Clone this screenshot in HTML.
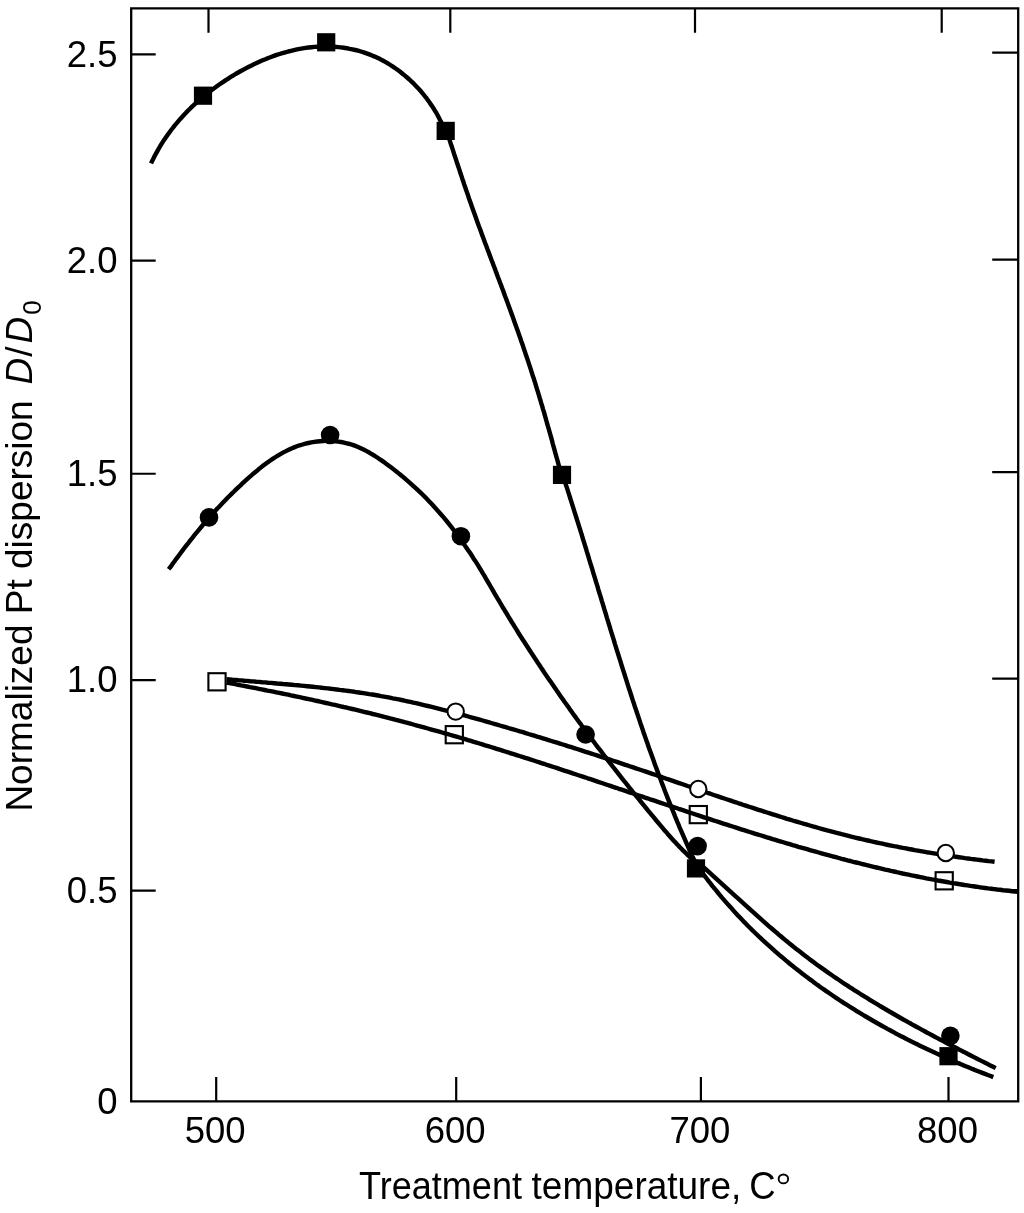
<!DOCTYPE html>
<html><head><meta charset="utf-8"><style>
html,body{margin:0;padding:0;background:#fff;}
svg{display:block;will-change:transform;}
text{font-family:"Liberation Sans",sans-serif;font-size:36.5px;fill:#000;}
</style></head><body>
<svg width="1024" height="1213" viewBox="0 0 1024 1213">
<path d="M131.2 8.3H1018.2V1101.4H131.2Z" fill="none" stroke="#000" stroke-width="2.3"/>
<path d="M131.2 54.4H155.7 M131.2 260.7H155.7 M131.2 473.75H155.7 M131.2 680.2H155.7 M131.2 890.7H155.7 M1018.2 52.6H992.2 M1018.2 259.6H992.2 M1018.2 472.2H992.2 M1018.2 678.6H992.2 M1018.2 890.0H992.2 M216.2 1101.4V1076.9 M456.2 1101.4V1076.9 M700.9 1101.4V1076.9 M948.5 1101.4V1076.9 M208.5 8.3V32.8 M450.3 8.3V32.8 M695 8.3V32.8 M941.7 8.3V32.8" stroke="#000" stroke-width="2.2" fill="none"/>
<path d="M151.0 163.4 L152.3 160.7 L153.7 158.0 L155.0 155.3 L156.5 152.7 L157.9 150.1 L159.4 147.5 L160.9 144.9 L162.5 142.4 L164.1 139.9 L165.8 137.5 L167.5 135.1 L169.2 132.7 L171.0 130.3 L172.8 128.0 L174.6 125.6 L176.5 123.4 L178.4 121.1 L180.3 118.9 L182.3 116.7 L184.3 114.5 L186.3 112.4 L188.4 110.3 L190.5 108.2 L192.6 106.2 L194.8 104.2 L197.0 102.2 L199.2 100.2 L201.4 98.3 L203.7 96.4 L206.0 94.5 L208.3 92.6 L210.7 90.8 L213.1 89.0 L215.5 87.2 L217.9 85.5 L220.4 83.8 L222.9 82.1 L225.4 80.4 L227.9 78.8 L230.4 77.2 L233.0 75.6 L235.6 74.0 L238.2 72.5 L240.9 71.0 L243.5 69.6 L246.2 68.1 L248.9 66.7 L251.6 65.4 L254.3 64.1 L257.1 62.8 L259.9 61.5 L262.6 60.3 L265.4 59.2 L268.2 58.0 L271.0 57.0 L273.9 55.9 L276.7 54.9 L279.6 54.0 L282.4 53.1 L285.3 52.3 L288.2 51.5 L291.1 50.8 L294.0 50.1 L296.9 49.4 L299.8 48.9 L302.7 48.4 L305.7 47.9 L308.6 47.5 L311.5 47.2 L314.5 46.9 L317.4 46.7 L320.3 46.6 L323.3 46.5 L326.2 46.5 L329.2 46.5 L332.1 46.6 L335.0 46.8 L338.0 47.1 L340.9 47.4 L343.8 47.8 L346.7 48.2 L349.6 48.8 L352.4 49.3 L355.3 50.0 L358.1 50.7 L360.9 51.5 L363.7 52.4 L366.5 53.4 L369.3 54.4 L372.0 55.5 L374.7 56.6 L377.4 57.8 L380.1 59.1 L382.7 60.5 L385.3 61.9 L387.8 63.4 L390.4 65.0 L392.9 66.6 L395.3 68.3 L397.8 70.0 L400.2 71.8 L402.5 73.7 L404.9 75.6 L407.1 77.5 L409.4 79.5 L411.6 81.6 L413.8 83.7 L415.9 85.9 L417.9 88.1 L420.0 90.3 L422.0 92.6 L423.9 95.0 L425.8 97.3 L427.6 99.8 L429.4 102.2 L431.1 104.7 L432.8 107.2 L434.4 109.8 L436.0 112.4 L437.5 115.0 L438.9 117.7 L440.3 120.4 L441.7 123.1 L443.0 125.9 L444.2 128.6 L445.3 131.4 L447.4 133.4 L448.3 136.3 L449.3 139.1 L450.2 141.9 L451.1 144.8 L452.1 147.6 L453.0 150.4 L453.9 153.3 L454.8 156.1 L455.8 158.9 L456.7 161.8 L457.6 164.6 L458.6 167.4 L459.5 170.2 L460.4 173.1 L461.4 175.9 L462.3 178.7 L463.3 181.5 L464.2 184.4 L465.2 187.2 L466.1 190.0 L467.1 192.8 L468.1 195.6 L469.0 198.5 L470.0 201.3 L471.0 204.1 L472.0 206.9 L473.0 209.7 L474.0 212.5 L475.0 215.3 L476.0 218.1 L477.0 220.9 L478.0 223.7 L479.0 226.5 L480.1 229.3 L481.1 232.1 L482.1 234.9 L483.2 237.7 L484.2 240.5 L485.2 243.2 L486.3 246.0 L487.3 248.8 L488.4 251.6 L489.4 254.4 L490.5 257.2 L491.5 260.0 L492.6 262.8 L493.6 265.5 L494.7 268.3 L495.7 271.1 L496.8 273.9 L497.8 276.7 L498.9 279.5 L499.9 282.2 L501.0 285.0 L502.0 287.8 L503.1 290.6 L504.1 293.4 L505.1 296.2 L506.2 299.0 L507.2 301.8 L508.2 304.6 L509.3 307.4 L510.3 310.2 L511.3 313.0 L512.3 315.8 L513.3 318.6 L514.3 321.4 L515.3 324.2 L516.3 327.0 L517.3 329.8 L518.3 332.6 L519.3 335.4 L520.3 338.2 L521.2 341.0 L522.2 343.8 L523.2 346.6 L524.1 349.5 L525.1 352.3 L526.0 355.1 L527.0 357.9 L527.9 360.7 L528.9 363.6 L529.8 366.4 L530.7 369.2 L531.6 372.1 L532.5 374.9 L533.5 377.7 L534.4 380.6 L535.3 383.4 L536.1 386.2 L537.0 389.1 L537.9 391.9 L538.8 394.8 L539.6 397.6 L540.5 400.5 L541.3 403.3 L542.2 406.2 L543.0 409.1 L543.9 411.9 L544.7 414.8 L545.5 417.6 L546.3 420.5 L547.1 423.4 L547.9 426.2 L548.8 429.1 L549.6 432.0 L550.4 434.8 L551.2 437.7 L552.0 440.6 L552.7 443.5 L553.5 446.3 L554.3 449.2 L555.1 452.1 L555.9 455.0 L556.7 457.8 L557.5 460.7 L558.3 463.6 L559.1 466.5 L559.9 469.3 L560.7 472.2 L561.4 475.1 L563.6 477.6 L564.5 480.4 L565.4 483.3 L566.3 486.1 L567.3 488.9 L568.2 491.8 L569.1 494.6 L570.0 497.5 L570.9 500.4 L571.8 503.2 L572.7 506.1 L573.6 508.9 L574.5 511.8 L575.4 514.6 L576.3 517.5 L577.2 520.3 L578.1 523.2 L579.0 526.1 L579.9 528.9 L580.8 531.8 L581.7 534.6 L582.5 537.5 L583.4 540.4 L584.3 543.2 L585.2 546.1 L586.1 549.0 L586.9 551.8 L587.8 554.7 L588.7 557.6 L589.5 560.4 L590.4 563.3 L591.3 566.2 L592.2 569.0 L593.0 571.9 L593.9 574.8 L594.8 577.6 L595.6 580.5 L596.5 583.4 L597.4 586.2 L598.2 589.1 L599.1 592.0 L600.0 594.8 L600.9 597.7 L601.7 600.6 L602.6 603.4 L603.5 606.3 L604.3 609.2 L605.2 612.0 L606.1 614.9 L606.9 617.8 L607.8 620.6 L608.7 623.5 L609.6 626.4 L610.4 629.2 L611.3 632.1 L612.2 635.0 L613.1 637.8 L614.0 640.7 L614.8 643.6 L615.7 646.4 L616.6 649.3 L617.5 652.2 L618.4 655.0 L619.3 657.9 L620.2 660.7 L621.1 663.6 L622.0 666.5 L622.9 669.3 L623.8 672.2 L624.7 675.0 L625.6 677.9 L626.5 680.7 L627.4 683.6 L628.3 686.4 L629.2 689.3 L630.2 692.1 L631.1 695.0 L632.0 697.8 L632.9 700.7 L633.9 703.5 L634.8 706.4 L635.8 709.2 L636.7 712.1 L637.7 714.9 L638.6 717.7 L639.6 720.6 L640.5 723.4 L641.5 726.2 L642.5 729.1 L643.4 731.9 L644.4 734.7 L645.4 737.6 L646.4 740.4 L647.4 743.2 L648.3 746.0 L649.3 748.9 L650.4 751.7 L651.4 754.5 L652.4 757.3 L653.4 760.1 L654.4 762.9 L655.4 765.8 L656.5 768.6 L657.5 771.4 L658.6 774.2 L659.6 777.0 L660.7 779.8 L661.7 782.6 L662.8 785.4 L663.9 788.2 L664.9 791.0 L666.0 793.8 L667.1 796.6 L668.2 799.3 L669.3 802.1 L670.4 804.9 L671.5 807.7 L672.7 810.5 L673.8 813.2 L674.9 816.0 L676.1 818.8 L677.2 821.6 L678.4 824.3 L679.5 827.1 L680.7 829.8 L681.9 832.6 L683.1 835.4 L684.3 838.1 L685.5 840.9 L686.7 843.6 L687.9 846.3 L689.1 849.1 L690.3 851.8 L691.6 854.6 L692.8 857.3 L694.1 860.0 L699.8 869.3 L701.6 871.8 L703.4 874.2 L705.2 876.6 L707.0 879.0 L708.8 881.4 L710.7 883.7 L712.5 886.1 L714.4 888.4 L716.3 890.7 L718.2 893.0 L720.1 895.3 L722.0 897.6 L724.0 899.9 L725.9 902.1 L727.9 904.4 L729.9 906.6 L731.9 908.8 L733.9 911.1 L735.9 913.3 L737.9 915.4 L740.0 917.6 L742.1 919.8 L744.1 921.9 L746.2 924.0 L748.3 926.2 L750.4 928.3 L752.5 930.4 L754.7 932.5 L756.8 934.5 L759.0 936.6 L761.2 938.6 L763.3 940.7 L765.5 942.7 L767.7 944.7 L770.0 946.7 L772.2 948.7 L774.4 950.7 L776.7 952.6 L778.9 954.6 L781.2 956.5 L783.5 958.4 L785.8 960.4 L788.1 962.3 L790.4 964.2 L792.7 966.0 L795.0 967.9 L797.4 969.8 L799.7 971.6 L802.1 973.4 L804.5 975.2 L806.9 977.1 L809.3 978.9 L811.7 980.6 L814.1 982.4 L816.5 984.2 L818.9 985.9 L821.3 987.7 L823.8 989.4 L826.2 991.1 L828.7 992.8 L831.2 994.5 L833.7 996.2 L836.1 997.8 L838.6 999.5 L841.1 1001.2 L843.6 1002.8 L846.2 1004.4 L848.7 1006.0 L851.2 1007.6 L853.8 1009.2 L856.3 1010.8 L858.9 1012.4 L861.4 1013.9 L864.0 1015.5 L866.6 1017.0 L869.2 1018.5 L871.7 1020.0 L874.3 1021.5 L876.9 1023.0 L879.6 1024.5 L882.2 1026.0 L884.8 1027.4 L887.4 1028.9 L890.1 1030.3 L892.7 1031.7 L895.3 1033.2 L898.0 1034.6 L900.6 1036.0 L903.3 1037.3 L906.0 1038.7 L908.6 1040.1 L911.3 1041.4 L914.0 1042.8 L916.7 1044.1 L919.4 1045.4 L922.1 1046.7 L924.8 1048.0 L927.5 1049.3 L930.2 1050.6 L932.9 1051.8 L935.6 1053.1 L938.3 1054.3 L941.0 1055.6 L943.8 1056.8 L946.5 1058.0 L949.2 1059.2 L952.0 1060.4 L954.7 1061.6 L957.4 1062.8 L960.2 1063.9 L962.9 1065.1 L965.7 1066.2 L968.4 1067.3 L971.2 1068.5 L974.0 1069.6 L976.7 1070.7 L979.5 1071.8 L982.3 1072.9 L985.0 1073.9 L987.8 1075.0 L990.6 1076.0 L993.3 1077.1" fill="none" stroke="#000" stroke-width="4.4" stroke-linejoin="round"/>
<path d="M168.7 569.3 L170.5 566.9 L172.2 564.4 L174.0 562.0 L175.8 559.5 L177.6 557.1 L179.4 554.7 L181.2 552.3 L183.0 549.9 L184.8 547.5 L186.6 545.1 L188.5 542.8 L190.3 540.4 L192.2 538.1 L194.0 535.7 L195.9 533.4 L197.8 531.1 L199.7 528.8 L201.6 526.5 L203.5 524.2 L205.5 522.0 L207.4 519.7 L209.4 517.5 L211.3 515.2 L213.3 513.0 L215.3 510.8 L217.3 508.6 L219.4 506.4 L221.4 504.3 L223.5 502.1 L225.5 500.0 L227.6 497.8 L229.7 495.7 L231.8 493.6 L234.0 491.5 L236.1 489.4 L238.3 487.3 L240.5 485.3 L242.7 483.2 L244.9 481.2 L247.1 479.2 L249.4 477.2 L251.7 475.2 L253.9 473.2 L256.3 471.3 L258.6 469.3 L261.0 467.4 L263.3 465.6 L265.7 463.8 L268.2 462.0 L270.6 460.3 L273.1 458.6 L275.6 457.0 L278.2 455.4 L280.8 453.9 L283.4 452.4 L286.0 451.1 L288.7 449.8 L291.4 448.5 L294.1 447.4 L296.9 446.3 L299.7 445.3 L302.6 444.5 L305.5 443.7 L308.4 443.0 L311.3 442.4 L314.3 441.9 L317.3 441.5 L320.2 441.2 L323.2 441.0 L326.2 440.9 L329.2 440.9 L332.2 441.0 L335.2 441.2 L338.2 441.6 L341.1 442.0 L344.0 442.6 L346.9 443.3 L349.8 444.0 L352.6 444.9 L355.4 445.9 L358.1 447.0 L360.8 448.2 L363.5 449.5 L366.2 450.9 L368.8 452.3 L371.4 453.8 L373.9 455.4 L376.5 457.0 L379.0 458.7 L381.5 460.4 L384.0 462.1 L386.4 463.9 L388.9 465.7 L391.3 467.5 L393.7 469.4 L396.0 471.2 L398.4 473.1 L400.7 475.0 L403.0 476.9 L405.3 478.8 L407.6 480.8 L409.9 482.8 L412.1 484.8 L414.3 486.8 L416.5 488.8 L418.7 490.9 L420.8 492.9 L423.0 495.0 L425.1 497.1 L427.2 499.3 L429.2 501.4 L431.3 503.6 L433.3 505.8 L435.3 508.0 L437.3 510.2 L439.3 512.4 L441.3 514.7 L443.2 516.9 L445.1 519.2 L447.0 521.5 L448.9 523.9 L450.7 526.2 L452.6 528.6 L454.4 530.9 L456.2 533.3 L458.0 535.7 L459.7 538.1 L461.5 540.5 L463.2 543.0 L464.9 545.4 L466.6 547.9 L468.3 550.4 L470.0 552.8 L471.6 555.3 L473.2 557.9 L474.9 560.4 L476.5 562.9 L478.1 565.4 L479.6 568.0 L481.2 570.5 L482.7 573.1 L484.3 575.7 L485.8 578.3 L487.3 580.8 L488.8 583.4 L490.3 586.0 L491.8 588.6 L493.3 591.2 L494.8 593.8 L496.3 596.4 L497.8 598.9 L499.4 601.5 L500.9 604.1 L502.4 606.7 L504.0 609.2 L505.5 611.8 L507.1 614.3 L508.6 616.9 L510.2 619.5 L511.7 622.0 L513.3 624.5 L514.9 627.1 L516.5 629.6 L518.0 632.2 L519.6 634.7 L521.2 637.2 L522.8 639.7 L524.5 642.3 L526.1 644.8 L527.7 647.3 L529.3 649.8 L530.9 652.3 L532.6 654.8 L534.2 657.3 L535.9 659.8 L537.5 662.3 L539.2 664.8 L540.8 667.3 L542.5 669.8 L544.1 672.3 L545.8 674.7 L547.5 677.2 L549.2 679.7 L550.9 682.1 L552.6 684.6 L554.3 687.1 L556.0 689.5 L557.7 692.0 L559.4 694.4 L561.1 696.9 L562.8 699.3 L564.5 701.8 L566.3 704.2 L568.0 706.6 L569.7 709.1 L571.5 711.5 L573.2 713.9 L575.0 716.4 L576.7 718.8 L578.5 721.2 L580.3 723.6 L582.0 726.0 L583.8 728.4 L585.6 730.8 L587.4 733.2 L589.2 735.6 L590.9 738.0 L592.7 740.4 L594.5 742.8 L596.3 745.2 L598.1 747.6 L600.0 749.9 L601.8 752.3 L603.6 754.7 L605.4 757.1 L607.2 759.4 L609.1 761.8 L610.9 764.1 L612.7 766.5 L614.6 768.9 L616.4 771.2 L618.3 773.6 L620.1 775.9 L622.0 778.3 L623.8 780.6 L625.7 782.9 L627.6 785.3 L629.4 787.6 L631.3 789.9 L633.2 792.3 L635.1 794.6 L636.9 796.9 L638.8 799.2 L640.7 801.5 L642.6 803.9 L644.5 806.2 L646.4 808.5 L648.3 810.8 L650.2 813.1 L652.1 815.4 L654.0 817.7 L655.9 820.0 L657.8 822.3 L659.8 824.6 L661.7 826.9 L663.6 829.2 L665.6 831.4 L667.5 833.7 L669.5 835.9 L671.5 838.2 L673.5 840.4 L675.5 842.6 L677.5 844.8 L679.6 846.9 L681.7 849.1 L683.8 851.2 L685.9 853.2 L688.1 855.3 L690.3 857.3 L692.5 859.3 L694.8 861.3 L697.9 862.1 L700.2 864.1 L702.4 866.1 L704.6 868.1 L706.8 870.1 L709.0 872.1 L711.2 874.1 L713.4 876.1 L715.6 878.1 L717.8 880.1 L720.0 882.1 L722.2 884.1 L724.4 886.1 L726.6 888.1 L728.8 890.2 L731.0 892.2 L733.2 894.2 L735.4 896.2 L737.7 898.2 L739.9 900.2 L742.1 902.2 L744.3 904.2 L746.5 906.2 L748.7 908.2 L750.9 910.2 L753.2 912.2 L755.4 914.2 L757.6 916.2 L759.9 918.2 L762.1 920.2 L764.3 922.1 L766.6 924.1 L768.8 926.1 L771.1 928.0 L773.4 930.0 L775.6 931.9 L777.9 933.8 L780.2 935.8 L782.5 937.7 L784.8 939.6 L787.1 941.5 L789.4 943.4 L791.7 945.2 L794.0 947.1 L796.3 949.0 L798.7 950.8 L801.0 952.6 L803.4 954.5 L805.7 956.3 L808.1 958.1 L810.5 959.9 L812.9 961.6 L815.3 963.4 L817.7 965.2 L820.1 966.9 L822.5 968.6 L825.0 970.4 L827.4 972.1 L829.8 973.8 L832.3 975.5 L834.7 977.2 L837.2 978.8 L839.7 980.5 L842.2 982.2 L844.6 983.8 L847.1 985.4 L849.6 987.1 L852.1 988.7 L854.6 990.3 L857.2 991.9 L859.7 993.5 L862.2 995.1 L864.7 996.7 L867.3 998.2 L869.8 999.8 L872.4 1001.4 L874.9 1002.9 L877.5 1004.4 L880.0 1006.0 L882.6 1007.5 L885.2 1009.0 L887.7 1010.5 L890.3 1012.0 L892.9 1013.5 L895.5 1015.0 L898.1 1016.5 L900.7 1018.0 L903.3 1019.5 L905.9 1020.9 L908.5 1022.4 L911.1 1023.8 L913.7 1025.3 L916.3 1026.7 L919.0 1028.2 L921.6 1029.6 L924.2 1031.0 L926.8 1032.5 L929.5 1033.9 L932.1 1035.3 L934.7 1036.7 L937.4 1038.1 L940.0 1039.5 L942.7 1040.9 L945.3 1042.3 L948.0 1043.7 L950.6 1045.1 L953.2 1046.4 L955.9 1047.8 L958.5 1049.2 L961.2 1050.6 L963.9 1051.9 L966.5 1053.3 L969.2 1054.7 L971.8 1056.0 L974.5 1057.4 L977.1 1058.7 L979.8 1060.1 L982.4 1061.4 L985.1 1062.8 L987.8 1064.1 L990.4 1065.5 L993.1 1066.8 L995.7 1068.1" fill="none" stroke="#000" stroke-width="4.4" stroke-linejoin="round"/>
<path d="M226.5 679.1 L229.5 679.4 L232.4 679.7 L235.4 679.9 L238.4 680.2 L241.4 680.4 L244.3 680.7 L247.3 680.9 L250.3 681.2 L253.3 681.4 L256.3 681.7 L259.2 681.9 L262.2 682.2 L265.2 682.4 L268.2 682.7 L271.2 682.9 L274.2 683.2 L277.1 683.5 L280.1 683.7 L283.1 684.0 L286.1 684.2 L289.1 684.5 L292.1 684.8 L295.0 685.1 L298.0 685.3 L301.0 685.6 L304.0 685.9 L307.0 686.2 L310.0 686.5 L312.9 686.8 L315.9 687.1 L318.9 687.4 L321.9 687.8 L324.8 688.1 L327.8 688.4 L330.8 688.8 L333.8 689.1 L336.7 689.5 L339.7 689.9 L342.7 690.2 L345.6 690.6 L348.6 691.0 L351.6 691.4 L354.5 691.8 L357.5 692.3 L360.4 692.7 L363.4 693.1 L366.4 693.6 L369.3 694.1 L372.3 694.5 L375.2 695.0 L378.1 695.5 L381.1 696.1 L384.0 696.6 L387.0 697.1 L389.9 697.7 L392.8 698.3 L395.8 698.8 L398.7 699.4 L401.6 700.0 L404.5 700.7 L407.4 701.3 L410.4 701.9 L413.3 702.6 L416.2 703.2 L419.1 703.9 L422.0 704.6 L424.9 705.3 L427.8 706.0 L430.7 706.7 L433.6 707.4 L436.5 708.1 L439.4 708.8 L442.3 709.6 L445.2 710.3 L448.1 711.1 L451.0 711.8 L453.9 712.6 L456.8 713.4 L459.6 714.1 L462.5 714.9 L465.4 715.7 L468.3 716.5 L471.2 717.3 L474.1 718.1 L476.9 718.9 L479.8 719.7 L482.7 720.5 L485.6 721.3 L488.4 722.1 L491.3 723.0 L494.2 723.8 L497.1 724.6 L499.9 725.5 L502.8 726.3 L505.7 727.1 L508.5 728.0 L511.4 728.8 L514.3 729.7 L517.1 730.5 L520.0 731.4 L522.9 732.2 L525.7 733.1 L528.6 734.0 L531.4 734.8 L534.3 735.7 L537.2 736.6 L540.0 737.4 L542.9 738.3 L545.7 739.2 L548.6 740.1 L551.4 741.0 L554.3 741.9 L557.1 742.7 L560.0 743.6 L562.9 744.5 L565.7 745.4 L568.5 746.3 L571.4 747.2 L574.2 748.1 L577.1 749.0 L579.9 749.9 L582.8 750.9 L585.6 751.8 L588.5 752.7 L591.3 753.6 L594.2 754.5 L597.0 755.4 L599.8 756.4 L602.7 757.3 L605.5 758.2 L608.4 759.1 L611.2 760.1 L614.0 761.0 L616.9 761.9 L619.7 762.9 L622.5 763.8 L625.4 764.8 L628.2 765.7 L631.0 766.7 L633.9 767.6 L636.7 768.6 L639.5 769.5 L642.4 770.5 L645.2 771.4 L648.0 772.4 L650.9 773.4 L653.7 774.3 L656.5 775.3 L659.4 776.3 L662.2 777.2 L665.0 778.2 L667.8 779.2 L670.7 780.1 L673.5 781.1 L676.3 782.1 L679.2 783.1 L682.0 784.0 L684.8 785.0 L687.6 786.0 L690.5 786.9 L693.3 787.9 L696.1 788.9 L699.0 789.9 L701.8 790.8 L704.6 791.8 L707.4 792.8 L710.3 793.7 L713.1 794.7 L715.9 795.7 L718.8 796.6 L721.6 797.6 L724.4 798.5 L727.3 799.5 L730.1 800.4 L732.9 801.4 L735.8 802.3 L738.6 803.3 L741.5 804.2 L744.3 805.2 L747.1 806.1 L750.0 807.0 L752.8 807.9 L755.7 808.9 L758.5 809.8 L761.4 810.7 L764.2 811.6 L767.1 812.5 L769.9 813.4 L772.8 814.3 L775.6 815.2 L778.5 816.1 L781.3 817.0 L784.2 817.9 L787.0 818.8 L789.9 819.6 L792.7 820.5 L795.6 821.3 L798.5 822.2 L801.3 823.0 L804.2 823.9 L807.1 824.7 L809.9 825.5 L812.8 826.4 L815.7 827.2 L818.6 828.0 L821.5 828.8 L824.3 829.6 L827.2 830.4 L830.1 831.1 L833.0 831.9 L835.9 832.7 L838.8 833.4 L841.7 834.2 L844.6 834.9 L847.5 835.6 L850.4 836.4 L853.3 837.1 L856.2 837.8 L859.1 838.5 L862.0 839.2 L864.9 839.8 L867.8 840.5 L870.7 841.2 L873.6 841.8 L876.6 842.5 L879.5 843.1 L882.4 843.7 L885.3 844.3 L888.3 845.0 L891.2 845.6 L894.1 846.2 L897.1 846.7 L900.0 847.3 L903.0 847.9 L905.9 848.4 L908.8 849.0 L911.8 849.5 L914.7 850.1 L917.7 850.6 L920.6 851.1 L923.6 851.6 L926.5 852.2 L929.5 852.6 L932.4 853.1 L935.4 853.6 L938.3 854.1 L941.3 854.6 L944.2 855.0 L947.2 855.5 L950.2 855.9 L953.1 856.4 L956.1 856.8 L959.0 857.2 L962.0 857.6 L965.0 858.1 L967.9 858.5 L970.9 858.9 L973.8 859.2 L976.8 859.6 L979.8 860.0 L982.7 860.4 L985.7 860.7 L988.7 861.1 L991.6 861.4 L994.6 861.8" fill="none" stroke="#000" stroke-width="4.4" stroke-linejoin="round"/>
<path d="M226.4 682.6 L229.3 683.1 L232.3 683.7 L235.2 684.2 L238.1 684.8 L241.1 685.4 L244.0 685.9 L247.0 686.5 L249.9 687.1 L252.8 687.6 L255.8 688.2 L258.7 688.8 L261.7 689.4 L264.6 690.0 L267.5 690.6 L270.5 691.1 L273.4 691.7 L276.3 692.3 L279.3 692.9 L282.2 693.5 L285.1 694.1 L288.1 694.7 L291.0 695.4 L293.9 696.0 L296.9 696.6 L299.8 697.2 L302.7 697.8 L305.6 698.5 L308.6 699.1 L311.5 699.7 L314.4 700.4 L317.4 701.0 L320.3 701.7 L323.2 702.3 L326.1 703.0 L329.0 703.6 L332.0 704.3 L334.9 704.9 L337.8 705.6 L340.7 706.3 L343.6 707.0 L346.6 707.6 L349.5 708.3 L352.4 709.0 L355.3 709.7 L358.2 710.4 L361.1 711.1 L364.0 711.8 L366.9 712.5 L369.8 713.2 L372.8 714.0 L375.7 714.7 L378.6 715.4 L381.5 716.1 L384.4 716.9 L387.3 717.6 L390.2 718.4 L393.1 719.1 L396.0 719.9 L398.9 720.6 L401.8 721.4 L404.6 722.2 L407.5 722.9 L410.4 723.7 L413.3 724.5 L416.2 725.3 L419.1 726.1 L422.0 726.9 L424.9 727.7 L427.8 728.5 L430.6 729.3 L433.5 730.1 L436.4 730.9 L439.3 731.7 L442.2 732.5 L445.0 733.4 L447.9 734.2 L450.8 735.0 L453.7 735.9 L456.5 736.7 L459.4 737.5 L462.3 738.4 L465.1 739.2 L468.0 740.1 L470.9 740.9 L473.8 741.8 L476.6 742.7 L479.5 743.5 L482.3 744.4 L485.2 745.3 L488.1 746.1 L490.9 747.0 L493.8 747.9 L496.6 748.8 L499.5 749.7 L502.4 750.6 L505.2 751.5 L508.1 752.4 L510.9 753.3 L513.8 754.2 L516.6 755.1 L519.5 756.0 L522.3 756.9 L525.2 757.8 L528.0 758.7 L530.9 759.6 L533.7 760.5 L536.6 761.5 L539.4 762.4 L542.2 763.3 L545.1 764.2 L547.9 765.2 L550.8 766.1 L553.6 767.0 L556.5 767.9 L559.3 768.9 L562.1 769.8 L565.0 770.8 L567.8 771.7 L570.7 772.6 L573.5 773.6 L576.3 774.5 L579.2 775.5 L582.0 776.4 L584.9 777.3 L587.7 778.3 L590.5 779.2 L593.4 780.2 L596.2 781.1 L599.0 782.1 L601.9 783.0 L604.7 784.0 L607.6 785.0 L610.4 785.9 L613.2 786.9 L616.1 787.8 L618.9 788.8 L621.7 789.7 L624.6 790.7 L627.4 791.6 L630.2 792.6 L633.1 793.5 L635.9 794.5 L638.8 795.5 L641.6 796.4 L644.4 797.4 L647.3 798.3 L650.1 799.3 L652.9 800.2 L655.8 801.2 L658.6 802.1 L661.5 803.1 L664.3 804.0 L667.1 805.0 L670.0 805.9 L672.8 806.9 L675.7 807.8 L678.5 808.8 L681.3 809.7 L684.2 810.7 L687.0 811.6 L689.9 812.6 L692.7 813.5 L695.6 814.5 L698.4 815.4 L701.2 816.3 L704.1 817.3 L706.9 818.2 L709.8 819.1 L712.6 820.1 L715.5 821.0 L718.3 821.9 L721.2 822.9 L724.0 823.8 L726.9 824.7 L729.7 825.6 L732.6 826.5 L735.4 827.4 L738.3 828.4 L741.1 829.3 L744.0 830.2 L746.9 831.1 L749.7 832.0 L752.6 832.9 L755.4 833.8 L758.3 834.7 L761.2 835.5 L764.0 836.4 L766.9 837.3 L769.7 838.2 L772.6 839.1 L775.5 839.9 L778.3 840.8 L781.2 841.7 L784.1 842.5 L786.9 843.4 L789.8 844.2 L792.7 845.1 L795.6 845.9 L798.4 846.8 L801.3 847.6 L804.2 848.4 L807.1 849.2 L809.9 850.1 L812.8 850.9 L815.7 851.7 L818.6 852.5 L821.5 853.3 L824.3 854.1 L827.2 854.9 L830.1 855.7 L833.0 856.5 L835.9 857.2 L838.8 858.0 L841.7 858.8 L844.6 859.5 L847.5 860.3 L850.4 861.0 L853.3 861.8 L856.2 862.5 L859.1 863.2 L862.0 864.0 L864.9 864.7 L867.8 865.4 L870.7 866.1 L873.6 866.8 L876.5 867.5 L879.4 868.2 L882.3 868.9 L885.2 869.6 L888.1 870.2 L891.0 870.9 L894.0 871.5 L896.9 872.2 L899.8 872.8 L902.7 873.5 L905.6 874.1 L908.6 874.7 L911.5 875.3 L914.4 875.9 L917.4 876.5 L920.3 877.1 L923.2 877.7 L926.2 878.3 L929.1 878.8 L932.0 879.4 L935.0 879.9 L937.9 880.5 L940.9 881.0 L943.8 881.5 L946.7 882.0 L949.7 882.6 L952.6 883.1 L955.6 883.5 L958.5 884.0 L961.5 884.5 L964.5 885.0 L967.4 885.4 L970.4 885.9 L973.3 886.3 L976.3 886.7 L979.3 887.2 L982.3 887.6 L985.2 888.0 L988.2 888.4 L991.2 888.7 L994.1 889.1 L997.1 889.5 L1000.1 889.8 L1003.1 890.2 L1006.1 890.5 L1009.1 890.8 L1012.1 891.2 L1015.0 891.5 L1018.0 891.8" fill="none" stroke="#000" stroke-width="4.4" stroke-linejoin="round"/>
<rect x="193.9" y="86.6" width="18.2" height="18.2" fill="#000"/>
<rect x="317.1" y="33.2" width="18.2" height="18.2" fill="#000"/>
<rect x="436.6" y="121.8" width="18.2" height="18.2" fill="#000"/>
<rect x="552.9" y="465.8" width="18.2" height="18.2" fill="#000"/>
<rect x="686.9" y="859.3" width="18.2" height="18.2" fill="#000"/>
<rect x="939.4" y="1047.1" width="18.2" height="18.2" fill="#000"/>
<circle cx="209" cy="517.4" r="9.3" fill="#000"/>
<circle cx="330.1" cy="435" r="9.3" fill="#000"/>
<circle cx="460.9" cy="536.2" r="9.3" fill="#000"/>
<circle cx="585.6" cy="734.5" r="9.3" fill="#000"/>
<circle cx="697.6" cy="846.1" r="9.3" fill="#000"/>
<circle cx="950.4" cy="1035.8" r="9.3" fill="#000"/>
<circle cx="455.7" cy="711.6" r="8.2" fill="#fff" stroke="#000" stroke-width="2"/>
<circle cx="698.3" cy="789" r="8.2" fill="#fff" stroke="#000" stroke-width="2"/>
<circle cx="945.8" cy="853" r="8.2" fill="#fff" stroke="#000" stroke-width="2"/>

<rect x="208.4" y="673.2" width="17.2" height="17.2" fill="none" stroke="#000" stroke-width="2.1"/>
<rect x="445.7" y="726.1" width="17.2" height="17.2" fill="none" stroke="#000" stroke-width="2.1"/>
<rect x="689.7" y="806.0" width="17.2" height="17.2" fill="none" stroke="#000" stroke-width="2.1"/>
<rect x="935.6" y="872.2" width="17.2" height="17.2" fill="none" stroke="#000" stroke-width="2.1"/>
<text x="117.5" y="66.6" text-anchor="end">2.5</text>
<text x="117.5" y="272.9" text-anchor="end">2.0</text>
<text x="117.5" y="485.9" text-anchor="end">1.5</text>
<text x="117.5" y="692.4" text-anchor="end">1.0</text>
<text x="117.5" y="902.9" text-anchor="end">0.5</text>
<text x="117.5" y="1113.5" text-anchor="end">0</text>
<text x="215.2" y="1142.6" text-anchor="middle">500</text>
<text x="455.2" y="1142.6" text-anchor="middle">600</text>
<text x="699.9" y="1142.6" text-anchor="middle">700</text>
<text x="947.5" y="1142.6" text-anchor="middle">800</text>
<g transform="translate(0 1198.8) scale(1 1.06) translate(0 -1198.8)"><text x="359" y="1198.8" textLength="163" lengthAdjust="spacingAndGlyphs">Treatment</text><text x="531.6" y="1198.8" textLength="209.7" lengthAdjust="spacingAndGlyphs">temperature,</text><text x="749.3" y="1198.8">C</text></g><ellipse cx="783.4" cy="1178.9" rx="4.75" ry="4.45" fill="none" stroke="#000" stroke-width="1.9"/>
<text style="font-size:37px" transform="translate(31.8 811.6) rotate(-90)">Normalized Pt dispersion <tspan dx="5.5" font-style="italic">D</tspan><tspan dx="1">/</tspan><tspan dx="3" font-style="italic">D</tspan><tspan style="font-size:26px" dx="2" dy="9.3">0</tspan></text>
</svg>
</body></html>
